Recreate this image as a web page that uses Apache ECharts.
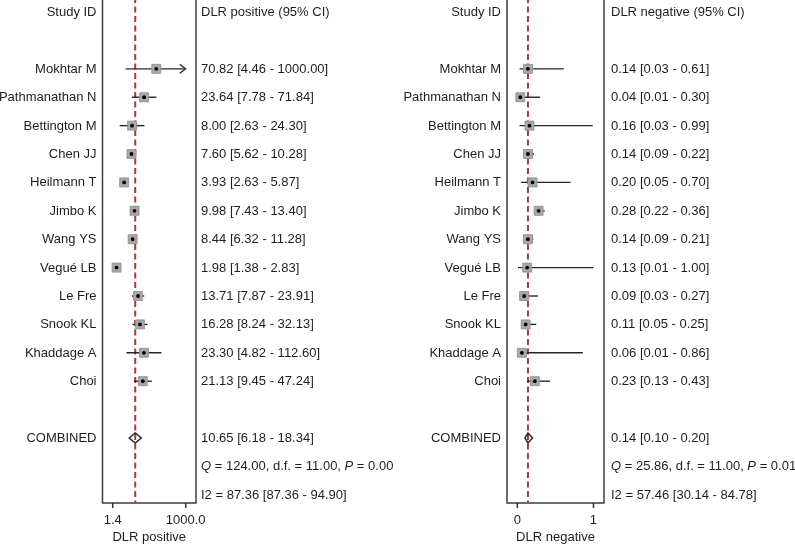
<!DOCTYPE html>
<html><head><meta charset="utf-8">
<script src="https://cdn.jsdelivr.net/npm/echarts@6/dist/echarts.min.js"></script>
<style>html,body{margin:0;padding:0;background:#fff}#c{width:795px;height:546px}</style>
</head><body><div id="c"></div>
<script>
// ---------- DATA ----------
const studies = ['Mokhtar M', 'Pathmanathan N', 'Bettington M', 'Chen JJ', 'Heilmann T', 'Jimbo K',
  'Wang YS', 'Vegué LB', 'Le Fre', 'Snook KL', 'Khaddage A', 'Choi'];
const posEst = [70.82, 23.64, 8.00, 7.60, 3.93, 9.98, 8.44, 1.98, 13.71, 16.28, 23.30, 21.13];
const posLo  = [4.46, 7.78, 2.63, 5.62, 2.63, 7.43, 6.32, 1.38, 7.87, 8.24, 4.82, 9.45];
const posHi  = [1000.00, 71.84, 24.30, 10.28, 5.87, 13.40, 11.28, 2.83, 23.91, 32.13, 112.60, 47.24];
const negEst = [0.14, 0.04, 0.16, 0.14, 0.20, 0.28, 0.14, 0.13, 0.09, 0.11, 0.06, 0.23];
const negLo  = [0.03, 0.01, 0.03, 0.09, 0.05, 0.22, 0.09, 0.01, 0.03, 0.05, 0.01, 0.13];
const negHi  = [0.61, 0.30, 0.99, 0.22, 0.70, 0.36, 0.21, 1.00, 0.27, 0.25, 0.86, 0.43];
const posCombined = [10.65, 6.18, 18.34];
const negCombined = [0.14, 0.10, 0.20];
const posQ = ['124.00', '11.00', '0.00'];
const negQ = ['25.86', '11.00', '0.01'];
const posI2 = [87.36, 87.36, 94.90];
const negI2 = [57.46, 30.14, 84.78];
const posTicks = [1.4, 1000];
const negTicks = [0, 1];
const posTickLabels = ['1.4', '1000.0'];
const negTickLabels = ['0', '1'];
const headers = ['Study ID', 'DLR positive (95% CI)', 'DLR negative (95% CI)'];
const axisNames = ['DLR positive', 'DLR negative'];
const combinedLabel = 'COMBINED';

// ---------- LAYOUT ----------
const FONT = '"Liberation Sans", Arial, Helvetica, sans-serif';
const FS = 13;
const TXT = '#1e1e1e';
const Y_MIN = -0.53, Y_MAX = 17.29;
const fmt = v => v.toFixed(2);
const ci = (e, l, h) => fmt(e) + ' [' + fmt(l) + ' - ' + fmt(h) + ']';

function panel(idx, est, lo, hi, comb, q, i2, ticks, tickLabels, header) {
  const n = studies.length;
  const combRow = n + 3, qRow = n + 4, i2Row = n + 5;
  const truncAt = ticks[ticks.length - 1];
  const series = [];
  // reference line (pooled estimate)
  series.push({
    type: 'line', xAxisIndex: idx, yAxisIndex: idx, symbol: 'none', silent: true, z: 1,
    data: [[comb[0], Y_MIN], [comb[0], Y_MAX]],
    lineStyle: { color: '#b3323f', width: 2, type: [6, 3.5] }
  });
  // studies: CI lines + squares
  series.push({
    type: 'custom', xAxisIndex: idx, yAxisIndex: idx, z: 3, clip: false,
    encode: { x: [0, 1, 2], y: 3 },
    data: studies.map((s, i) => [est[i], lo[i], hi[i], i + 2]),
    renderItem: (params, api) => {
      const r = api.value(3);
      const c = api.coord([api.value(0), r]);
      const a = api.coord([api.value(1), r]);
      const b = api.coord([api.value(2), r]);
      const ch = [{ type: 'line', shape: { x1: a[0], y1: a[1], x2: b[0], y2: b[1] },
        style: { stroke: '#262626', lineWidth: 1.4 } }];
      if (api.value(2) >= truncAt && idx === 0) {
        ch.push({ type: 'polyline', shape: { points: [[b[0] - 6, b[1] - 4.5], [b[0], b[1]], [b[0] - 6, b[1] + 4.5]] },
          style: { stroke: '#4a3434', fill: null, lineWidth: 1.4 } });
      }
      ch.push({ type: 'rect', shape: { x: c[0] - 4.5, y: c[1] - 4.5, width: 9, height: 9 },
        style: { fill: '#a8a8a8', stroke: '#8c8c8c', lineWidth: 0.8 } });
      ch.push({ type: 'circle', shape: { cx: c[0], cy: c[1], r: 1.9 }, style: { fill: '#000' } });
      return { type: 'group', children: ch };
    }
  });
  // combined diamond
  series.push({
    type: 'custom', xAxisIndex: idx, yAxisIndex: idx, z: 4, clip: false,
    encode: { x: [0, 1, 2], y: 3 },
    data: [[comb[0], comb[1], comb[2], combRow]],
    renderItem: (params, api) => {
      const r = api.value(3);
      const c = api.coord([api.value(0), r]);
      const a = api.coord([api.value(1), r]);
      const b = api.coord([api.value(2), r]);
      return { type: 'polygon',
        shape: { points: [[a[0], a[1]], [c[0], c[1] - 5], [b[0], b[1]], [c[0], c[1] + 5]] },
        style: { fill: null, stroke: '#2a2a2a', lineWidth: 1.5 } };
    }
  });
  // text rows
  const rows = [0, ...studies.map((s, i) => i + 2), combRow, qRow, i2Row];
  const leftTexts = [headers[0], ...studies, combinedLabel, '', ''];
  const rightTexts = [header, ...studies.map((s, i) => ci(est[i], lo[i], hi[i])), ci(comb[0], comb[1], comb[2]),
    '{i|Q} = ' + q[0] + ', d.f. = ' + q[1] + ', {i|P} = ' + q[2],
    'I2 = ' + ci(i2[0], i2[1], i2[2])];
  series.push({
    type: 'custom', xAxisIndex: idx, yAxisIndex: idx, z: 5, clip: false, silent: true,
    encode: { x: 0, y: 1 },
    data: rows.map(r => [ticks[0], r]),
    renderItem: (params, api) => {
      const cs = params.coordSys;
      const y = api.coord([api.value(0), api.value(1)])[1] + 0.5;
      const k = params.dataIndex;
      return { type: 'group', children: [
        { type: 'text', x: cs.x - 6, y: y, style: { text: leftTexts[k], align: 'right', verticalAlign: 'middle',
          fill: TXT, font: FS + 'px ' + FONT } },
        { type: 'text', x: cs.x + cs.width + (idx === 0 ? 5 : 7), y: y, style: { text: rightTexts[k], align: 'left', verticalAlign: 'middle',
          fill: TXT, font: FS + 'px ' + FONT,
          rich: { i: { fontStyle: 'italic', fontSize: FS, fontFamily: FONT, fill: TXT } } } }
      ] };
    }
  });
  // axis ticks + labels
  series.push({
    type: 'custom', xAxisIndex: idx, yAxisIndex: idx, z: 5, clip: false, silent: true,
    encode: { x: 0, y: 1 },
    data: ticks.map(v => [v, Y_MAX]),
    renderItem: (params, api) => {
      const cs = params.coordSys;
      const x = api.coord([api.value(0), api.value(1)])[0];
      const yb = cs.y + cs.height;
      return { type: 'group', children: [
        { type: 'line', shape: { x1: x, y1: yb, x2: x, y2: yb + 5 }, style: { stroke: '#333', lineWidth: 1.5 } },
        { type: 'text', x: x, y: yb + 17.5, style: { text: tickLabels[params.dataIndex], align: 'center',
          verticalAlign: 'middle', fill: TXT, font: FS + 'px ' + FONT } }
      ] };
    }
  });
  return series;
}

const chart = echarts.init(document.getElementById('c'), null, { renderer: 'canvas' });
const gridBase = { top: -3, height: 506, show: true, borderColor: '#3c3c3c', borderWidth: 1.5,
  backgroundColor: 'transparent', containLabel: false, outerBoundsMode: 'none' };
const xBase = { axisLine: { show: false }, axisTick: { show: false }, axisLabel: { show: false }, splitLine: { show: false },
  nameLocation: 'middle', nameGap: 28, nameTextStyle: { color: TXT, fontSize: FS, fontFamily: FONT } };
const yBase = { type: 'value', inverse: true, min: Y_MIN, max: Y_MAX, show: false };
chart.setOption({
  animation: false,
  backgroundColor: '#fff',
  grid: [Object.assign({ left: 102.5, width: 93.5 }, gridBase), Object.assign({ left: 507, width: 97 }, gridBase)],
  xAxis: [
    Object.assign({ type: 'log', gridIndex: 0, min: 0.559, max: 2527, name: axisNames[0] }, xBase),
    Object.assign({ type: 'value', gridIndex: 1, min: -0.135, max: 1.138, name: axisNames[1] }, xBase)
  ],
  yAxis: [Object.assign({ gridIndex: 0 }, yBase), Object.assign({ gridIndex: 1 }, yBase)],
  series: [
    ...panel(0, posEst, posLo, posHi, posCombined, posQ, posI2, posTicks, posTickLabels, headers[1]),
    ...panel(1, negEst, negLo, negHi, negCombined, negQ, negI2, negTicks, negTickLabels, headers[2])
  ]
});
</script></body></html>
